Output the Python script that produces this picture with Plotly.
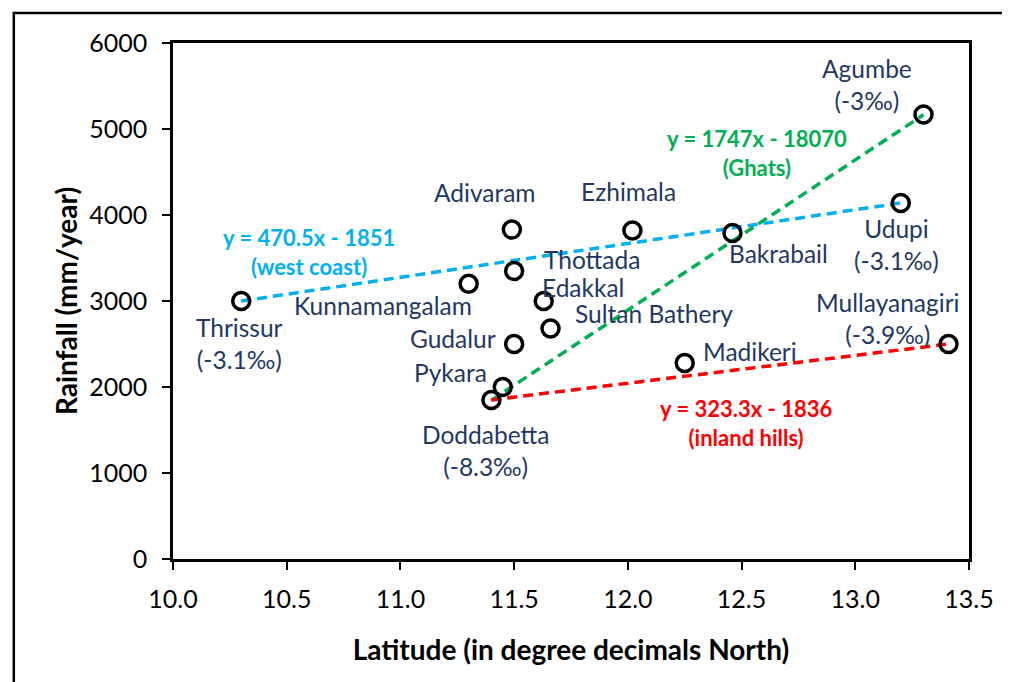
import plotly.graph_objects as go

# Station data
stations = ["Thrissur", "Kunnamangalam", "Adivaram", "Thottada", "Edakkal", "Sultan Bathery",
            "Gudalur", "Pykara", "Doddabetta", "Ezhimala", "Bakrabail", "Madikeri",
            "Udupi", "Agumbe", "Mullayanagiri"]
latitude = [10.30, 11.30, 11.49, 11.50, 11.63, 11.66, 11.50, 11.45, 11.40, 12.02, 12.46, 12.25,
            13.20, 13.30, 13.41]
rainfall = [3000, 3200, 3830, 3350, 3000, 2680, 2500, 2000, 1850, 3820, 3790, 2280,
            4140, 5170, 2500]
point_labels = ["Thrissur<br>(-3.1‰)", "Kunnamangalam", "Adivaram", "Thottada", "Edakkal",
                "Sultan Bathery", "Gudalur", "Pykara", "Doddabetta<br>(-8.3‰)", "Ezhimala",
                "Bakrabail", "Madikeri", "Udupi<br>(-3.1‰)", "Agumbe<br>(-3‰)",
                "Mullayanagiri<br>(-3.9‰)"]

# Trend lines (endpoints as drawn)
west_x = [10.30, 13.20]
west_y = [3000, 4140]
ghats_x = [11.40, 13.30]
ghats_y = [1846, 5165]
inland_x = [11.40, 13.41]
inland_y = [1850, 2500]

trend_texts = ["y = 470.5x - 1851<br>(west coast)", "y = 1747x - 18070<br>(Ghats)",
               "y = 323.3x - 1836<br>(inland hills)"]

x_ticks = [10.0, 10.5, 11.0, 11.5, 12.0, 12.5, 13.0, 13.5]
y_ticks = [0, 1000, 2000, 3000, 4000, 5000, 6000]

# label pixel offsets (layout)
label_shift = {
    "Thrissur": (-2, -42), "Kunnamangalam": (-86, -22), "Adivaram": (-27, 37),
    "Thottada": (78, 11), "Edakkal": (39, 14), "Sultan Bathery": (103, 15),
    "Gudalur": (-61, 6), "Pykara": (-52, 15), "Doddabetta": (-6, -51),
    "Ezhimala": (-4, 39), "Bakrabail": (46, -20), "Madikeri": (65, 11),
    "Udupi": (-4, -42), "Agumbe": (-57, 30), "Mullayanagiri": (-61, 26),
}

FONT = "Lato"
NAVY = "#1F3864"
BLUE = "#00B0F0"
GREEN = "#00B050"
RED = "#FF0000"

fig = go.Figure()
for xs, ys, col in [(west_x, west_y, BLUE), (ghats_x, ghats_y, GREEN), (inland_x, inland_y, RED)]:
    fig.add_trace(go.Scatter(x=xs, y=ys, mode="lines",
                             line=dict(color=col, width=3.5, dash="10px,6px"),
                             hoverinfo="skip", showlegend=False))

fig.add_trace(go.Scatter(x=latitude, y=rainfall, mode="markers",
                         marker=dict(symbol="circle-open", size=17, color="black",
                                     line=dict(width=3.5, color="black")),
                         text=stations, showlegend=False))

annotations = []
for s, lx, ly, lab in zip(stations, latitude, rainfall, point_labels):
    dx, dy = label_shift[s]
    annotations.append(dict(x=lx, y=ly, text=lab, showarrow=False, xshift=dx, yshift=dy,
                            font=dict(family=FONT, size=24.5, color=NAVY),
                            xanchor="center", yanchor="middle"))

trend_pos = [(10.596, 3570, BLUE), (12.57, 4721, GREEN), (12.52, 1581, RED)]
for txt, (tx, ty, col) in zip(trend_texts, trend_pos):
    annotations.append(dict(x=tx, y=ty, text="<b>" + txt + "</b>", showarrow=False,
                            font=dict(family=FONT, size=22, color=col),
                            xanchor="center", yanchor="middle"))

fig.update_layout(
    width=1010, height=682,
    margin=dict(l=165, r=49, t=35, b=131),
    paper_bgcolor="white", plot_bgcolor="white",
    font=dict(family=FONT, size=24, color="black"),
    annotations=annotations,
    shapes=[dict(type="rect", xref="paper", yref="paper", x0=-0.2, x1=1.07, y0=-0.3, y1=1.058,
                 line=dict(color="black", width=2.5), layer="above")],
    xaxis=dict(range=[10.0, 13.5], tickvals=x_ticks,
               ticktext=[f"{v:.1f}" for v in x_ticks],
               showgrid=False, zeroline=False, showline=True, linecolor="black", linewidth=2.5,
               mirror=True, ticks="outside", ticklen=8, tickwidth=2, tickcolor="black",
               ticklabelstandoff=8,
               tickfont=dict(family=FONT, size=25, color="black"),
               title=dict(text="<b>Latitude (in degree decimals North)</b>",
                          font=dict(family=FONT, size=28, color="black"), standoff=29)),
    yaxis=dict(range=[0, 6000], tickvals=y_ticks,
               showgrid=False, zeroline=False, showline=True, linecolor="black", linewidth=2.5,
               mirror=True, ticks="outside", ticklen=8, tickwidth=2, tickcolor="black",
               ticklabelstandoff=10,
               tickfont=dict(family=FONT, size=25, color="black"),
               title=dict(text="<b>Rainfall (mm/year)</b>",
                          font=dict(family=FONT, size=28, color="black"), standoff=4)),
)

fig.write_html("out.html")
